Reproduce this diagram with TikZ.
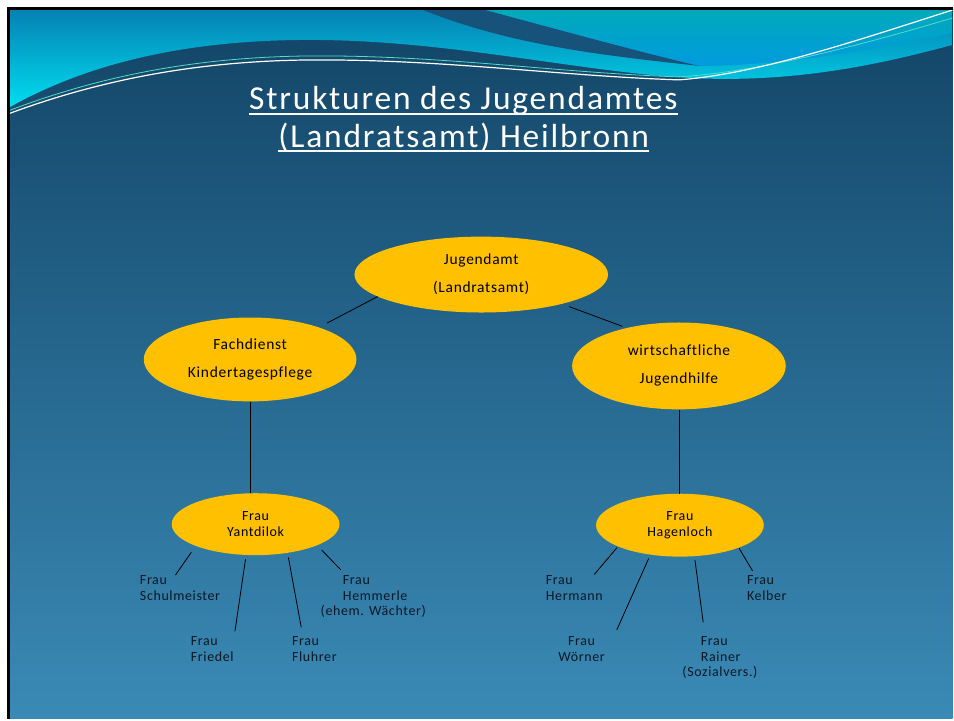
\documentclass[tikz,border=0pt]{standalone}
\usepackage{fontspec}
\setmainfont{Carlito}
\newfontfamily\slidefont[LetterSpace=4.5, Ligatures=NoCommon]{Carlito}
\newfontfamily\headfont[LetterSpace=5.5]{Carlito}
\usetikzlibrary{shapes.geometric}
\definecolor{amtgold}{RGB}{255,192,0}
\definecolor{bgtop}{RGB}{18,68,102}
\definecolor{bgmid}{RGB}{36,104,145}
\definecolor{bgbottom}{RGB}{58,138,182}
\definecolor{wavetop}{RGB}{5,128,178}
\definecolor{wavebottom}{RGB}{0,222,240}
\definecolor{crescent}{RGB}{22,82,122}
\definecolor{skytop}{RGB}{0,170,186}
\definecolor{skybottom}{RGB}{0,155,222}
\definecolor{tealline}{RGB}{80,220,200}
\definecolor{inktext}{RGB}{12,24,36}
\begin{document}
\begin{tikzpicture}[x=1pt, y=-1pt,
  oval/.style={ellipse, fill=amtgold, inner sep=0pt, align=center, text=black},
  bigoval/.style={oval, font=\slidefont\fontsize{15.5}{28}\selectfont},
  smalloval/.style={oval, font=\slidefont\fontsize{14}{15.5}\selectfont},
  person/.style={font=\slidefont\fontsize{14}{15.5}\selectfont, align=left, inner sep=0pt, text=inktext},
  headline/.style={font=\headfont\fontsize{33.5}{38}\selectfont, text=white, inner sep=0pt, anchor=base},
  link/.style={black, line width=0.8pt},
  leafline/.style={link, shorten <=3pt}]

\fill[white] (0,0) rectangle (954,720);
\shade[top color=bgtop, middle color=bgmid, bottom color=bgbottom] (8.5,8.5) rectangle (954,720);

\shade[top color=wavetop, bottom color=wavebottom] (8.5,8.5) -- (954,8.5) -- (954,45) .. controls (890,62) and (800,84) .. (690,78) .. controls (580,72) and (450,40) .. (310,40) .. controls (190,40) and (90,62) .. (8.5,108) -- cycle;
\shade[top color=skytop, bottom color=skybottom] (480,8.5) -- (954,8.5) -- (954,33) .. controls (880,50) and (780,66) .. (700,66) .. controls (640,52) and (560,30) .. (480,8.5) -- cycle;
\fill[crescent] (420,8.5) -- (480,8.5) .. controls (560,30) and (640,52) .. (700,66) .. controls (600,55) and (510,45) .. (420,8.5) -- cycle;
\draw[tealline, line width=0.8pt] (8.5,111) .. controls (100,76) and (200,56) .. (320,56) .. controls (450,56) and (560,73) .. (680,77) .. controls (760,72) and (860,46) .. (954,18);
\draw[white, line width=1.2pt] (8.5,114) .. controls (100,80) and (200,60) .. (320,60) .. controls (450,60) and (560,76) .. (680,80) .. controls (760,74) and (860,40) .. (954,10);
\draw[black, line width=3pt] (8.5,720) -- (8.5,8.5) -- (954,8.5);

\node[headline] (title1) at (464,110) {Strukturen des Jugendamtes};
\node[headline] (title2) at (464.5,147.7) {(Landratsamt) Heilbronn};
\draw[white, line width=2pt] ([yshift=-4pt]title1.base west) -- ([yshift=-4pt]title1.base east);
\draw[white, line width=2pt] ([yshift=-4pt]title2.base west) -- ([yshift=-4pt]title2.base east);

\node[bigoval, minimum width=254pt, minimum height=76pt] (jug) at (482,275) {Jugendamt\\(Landratsamt)};
\node[bigoval, minimum width=213pt, minimum height=84pt] (fach) at (250.5,360) {Fachdienst\\Kindertagespflege};
\node[bigoval, minimum width=214pt, minimum height=87pt] (wirt) at (680,366.5) {wirtschaftliche\\Jugendhilfe};
\node[smalloval, minimum width=168pt, minimum height=62pt] (yant) at (256,525) {Frau\\Yantdilok};
\node[smalloval, minimum width=168pt, minimum height=63pt] (hag) at (681,526) {Frau\\Hagenloch};

\draw[link, shorten >=9pt] (jug.192) -- (fach.25);
\draw[link, shorten <=7.6pt, shorten >=4.5pt] (jug.340) -- (wirt.144);
\draw[link] (fach.south) -- (fach.south |- yant.north);
\draw[link] (wirt.south) -- (wirt.south |- hag.north);

\node[person, anchor=north west] (schulmeister) at (140,576.6) {Frau\\Schulmeister};
\node[person, anchor=north west] (friedel) at (191,637.6) {Frau\\Friedel};
\node[person, anchor=north west] (fluhrer) at (292.3,637.6) {Frau\\Fluhrer};
\node[person, anchor=north west] (hemmerle) at (321,576.6) {\hspace*{22.3pt}Frau\\\hspace*{22.3pt}Hemmerle\\(ehem. Wächter)};
\node[person, anchor=north west] (hermann) at (546.5,576.6) {Frau\\Hermann};
\node[person, anchor=north, align=center] (woerner) at (582.5,637.6) {Frau\\Wörner};
\node[person, anchor=north west] (rainer) at (683.3,637.6) {\hspace*{18.4pt}Frau\\\hspace*{18.4pt}Rainer\\(Sozialvers.)};
\node[person, anchor=north west] (kelber) at (748,576.6) {Frau\\Kelber};

\coordinate (schulmeisterEnd) at (175.7,576);
\coordinate (friedelEnd) at (235.3,632.3);
\coordinate (fluhrerEnd) at (301.7,628.3);
\coordinate (hemmerleEnd) at (341.3,570.7);
\coordinate (hermannEnd) at (595.3,575.3);
\coordinate (woernerEnd) at (617.7,631);
\coordinate (rainerEnd) at (704.3,623.3);
\coordinate (kelberEnd) at (753.7,571.7);

\draw[leafline, shorten <=7.6pt] (yant.200) -- (schulmeisterEnd);
\draw[leafline, shorten <=4.2pt] (yant.253) -- (friedelEnd);
\draw[leafline, shorten <=4.6pt] (yant.318) -- (fluhrerEnd);
\draw[leafline, shorten <=6.5pt] (yant.341) -- (hemmerleEnd);
\draw[leafline, shorten <=1.3pt] (hag.199) -- (hermannEnd);
\draw[leafline, shorten <=4.1pt] (hag.225) -- (woernerEnd);
\draw[leafline, shorten <=3.9pt] (hag.295) -- (rainerEnd);
\draw[leafline, shorten <=0.6pt] (hag.339) -- (kelberEnd);

\end{tikzpicture}
\end{document}
